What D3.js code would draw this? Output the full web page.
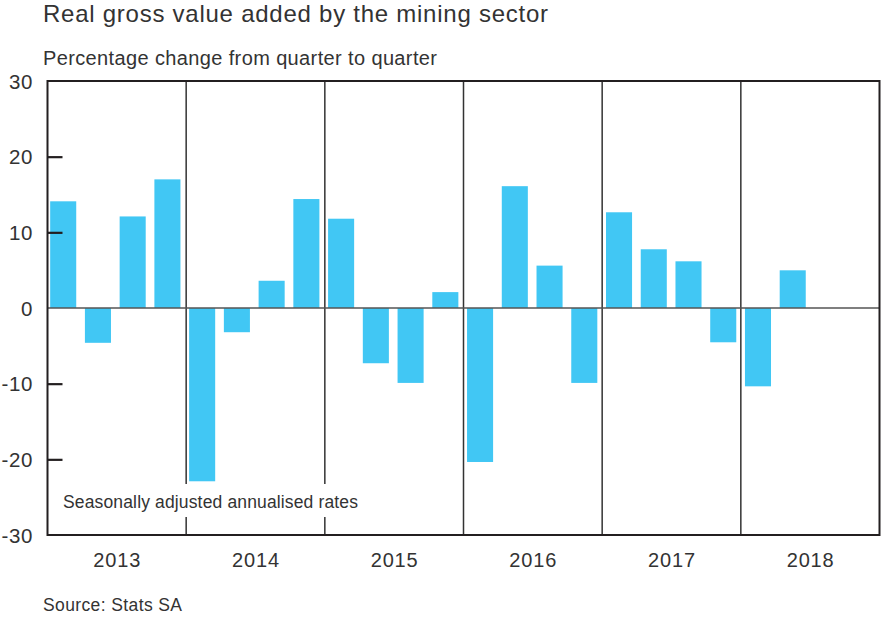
<!DOCTYPE html>
<html><head><meta charset="utf-8">
<script src="https://cdn.jsdelivr.net/npm/d3@7"></script>
<style>body{margin:0;background:#fff}svg{display:block}text{font-family:"Liberation Sans",Arial,sans-serif;fill:#333}</style>
</head><body><svg id="c" width="882" height="618"></svg>
<script>
const years = ["2013","2014","2015","2016","2017","2018"];
const quarters = ["Q1","Q2","Q3","Q4"];
const values = [
  14.1, -4.6, 12.1, 17.0,
  -22.9, -3.2, 3.6, 14.4,
  11.8, -7.3, -9.9, 2.1,
  -20.35, 16.1, 5.6, -9.9,
  12.65, 7.76, 6.17, -4.53,
  -10.35, 4.98, null, null
];
const yTicks = [30, 20, 10, 0, -10, -20, -30];

const svg = d3.select("#c");
const L = 47.5, R = 879.5, T = 81, B = 535;
const periods = [];
years.forEach(y => quarters.forEach(q => periods.push(y + q)));
const data = periods.map((p, i) => ({p, v: values[i]}));

const xYear = d3.scaleBand().domain(years).range([L, R]);
const xQ = d3.scaleBand().domain(periods).range([L, R]).paddingInner(0.25).paddingOuter(0.1);
const y = d3.scaleLinear().domain([-30, 30]).range([B, T]);

// bars
svg.append("g").selectAll("rect").data(data.filter(d => d.v !== null)).join("rect")
  .attr("x", d => xQ(d.p) - 0.8)
  .attr("width", xQ.bandwidth())
  .attr("y", d => Math.min(y(d.v), y(0)))
  .attr("height", d => Math.abs(y(d.v) - y(0)))
  .attr("fill", "#41c7f4");

// year separators
const noteY0 = 484, noteY1 = 517;
years.slice(1).forEach((yr, i) => {
  const x = xYear(yr);
  if (i < 2) {
    svg.append("line").attr("x1", x).attr("x2", x).attr("y1", T).attr("y2", noteY0).attr("stroke", "#333").attr("stroke-width", 1.5);
    svg.append("line").attr("x1", x).attr("x2", x).attr("y1", noteY1).attr("y2", B).attr("stroke", "#333").attr("stroke-width", 1.5);
  } else {
    svg.append("line").attr("x1", x).attr("x2", x).attr("y1", T).attr("y2", B).attr("stroke", "#333").attr("stroke-width", 1.5);
  }
});

// zero line
svg.append("line").attr("x1", L).attr("x2", R).attr("y1", y(0)).attr("y2", y(0)).attr("stroke", "#555").attr("stroke-width", 1.6);

// frame
svg.append("rect").attr("x", L).attr("y", T).attr("width", R - L).attr("height", B - T)
  .attr("fill", "none").attr("stroke", "#231f20").attr("stroke-width", 2);

// y axis ticks + labels
const yAxis = d3.axisRight(y).tickValues(yTicks.filter(t => t !== 0 && Math.abs(t) !== 30)).tickSize(15).tickFormat("");
const ga = svg.append("g").attr("transform", `translate(${L},0)`).call(yAxis);
ga.select(".domain").remove();
ga.selectAll("line").attr("stroke", "#231f20").attr("stroke-width", 2.2);

svg.append("g").selectAll("text").data(yTicks).join("text")
  .attr("x", 33).attr("y", d => y(d) + 7.5)
  .attr("text-anchor", "end").attr("font-size", 20.5).attr("letter-spacing", 0.6)
  .text(d => d);

// year labels
svg.append("g").selectAll("text").data(years).join("text")
  .attr("x", d => xYear(d) + xYear.bandwidth() / 2).attr("y", 567)
  .attr("text-anchor", "middle").attr("font-size", 20)
  .attr("textLength", 47).attr("lengthAdjust", "spacing")
  .text(d => d);

// texts
svg.append("text").attr("x", 43).attr("y", 22).attr("font-size", 24)
  .attr("textLength", 505).attr("lengthAdjust", "spacing")
  .text("Real gross value added by the mining sector");
svg.append("text").attr("x", 43).attr("y", 65).attr("font-size", 20)
  .attr("textLength", 394).attr("lengthAdjust", "spacing")
  .text("Percentage change from quarter to quarter");
svg.append("text").attr("x", 63).attr("y", 508).attr("font-size", 17.5)
  .attr("textLength", 295).attr("lengthAdjust", "spacing")
  .text("Seasonally adjusted annualised rates");
svg.append("text").attr("x", 43).attr("y", 611).attr("font-size", 17.5)
  .attr("textLength", 139).attr("lengthAdjust", "spacing")
  .text("Source: Stats SA");
</script></body></html>
